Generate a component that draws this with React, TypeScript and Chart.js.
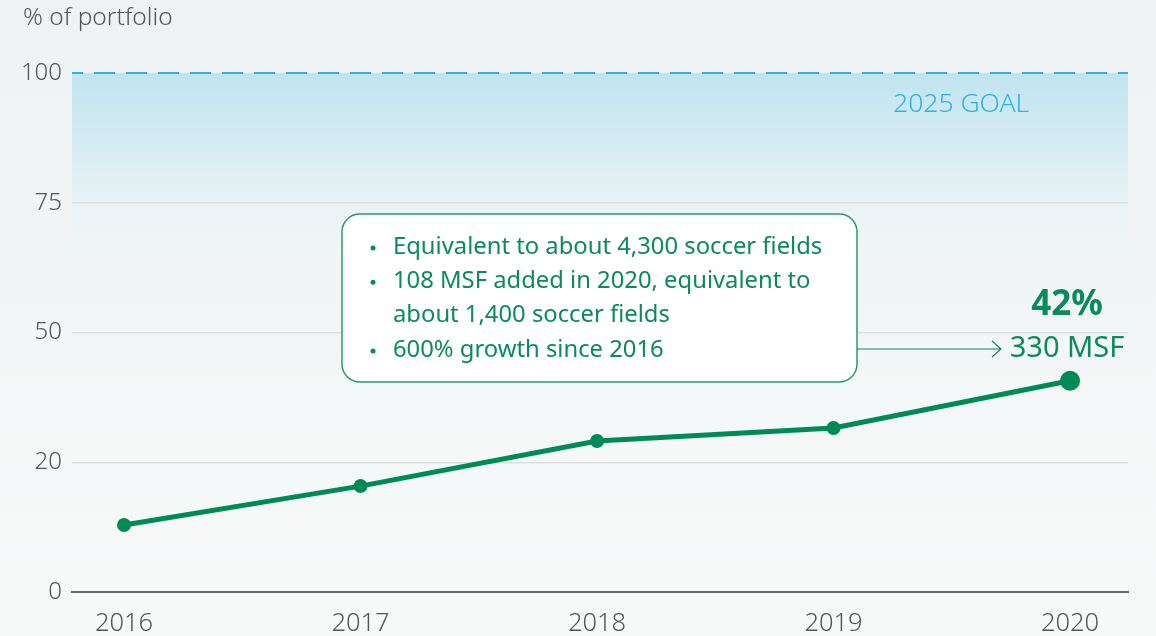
import React, { useEffect, useRef } from "react";
import { Chart, registerables } from "chart.js";

Chart.register(...registerables);

const years = [2016, 2017, 2018, 2019, 2020];
const sharePct = [12.9, 20.4, 29.1, 31.6, 40.7];
const yTickValues = [0, 25, 50, 75, 100];
const yTickLabels = ["0", "20", "50", "75", "100"];
const noteLines = [
  { bullet: true, text: "Equivalent to about 4,300 soccer fields" },
  { bullet: true, text: "108 MSF added in 2020, equivalent to" },
  { bullet: false, text: "about 1,400 soccer fields" },
  { bullet: true, text: "600% growth since 2016" },
];
const lastPctLabel = "42%";
const lastMsfLabel = "330 MSF";
const goalLabel = "2025 GOAL";
const yTitle = "% of portfolio";

const FONT = "'Noto Sans', 'Open Sans', sans-serif";
const GREEN = "#008a56";
const TEXT_GREEN = "#0b8a5c";
const BLUE = "#2eb3e4";

function roundRect(ctx: CanvasRenderingContext2D, x: number, y: number, w: number, h: number, r: number) {
  ctx.beginPath();
  ctx.moveTo(x + r, y);
  ctx.lineTo(x + w - r, y);
  ctx.arcTo(x + w, y, x + w, y + r, r);
  ctx.lineTo(x + w, y + h - r);
  ctx.arcTo(x + w, y + h, x + w - r, y + h, r);
  ctx.lineTo(x + r, y + h);
  ctx.arcTo(x, y + h, x, y + h - r, r);
  ctx.lineTo(x, y + r);
  ctx.arcTo(x, y, x + r, y, r);
  ctx.closePath();
}

const bgPlugin = {
  id: "bgPlugin",
  beforeDraw(chart: any) {
    const { ctx, width, height, chartArea, scales } = chart;
    ctx.save();
    const g = ctx.createLinearGradient(0, 0, 0, height);
    g.addColorStop(0, "#eef2f2");
    g.addColorStop(1, "#f8fafa");
    ctx.fillStyle = g;
    ctx.fillRect(0, 0, width, height);
    const yTop = scales.y.getPixelForValue(100);
    const yEnd = scales.y.getPixelForValue(62);
    const bg = ctx.createLinearGradient(0, yTop, 0, yEnd);
    bg.addColorStop(0, "rgba(192,228,240,1)");
    bg.addColorStop(0.66, "rgba(232,242,245,1)");
    bg.addColorStop(1, "rgba(240,244,245,0)");
    ctx.fillStyle = bg;
    ctx.fillRect(chartArea.left, yTop, chartArea.right - chartArea.left, yEnd - yTop);
    ctx.restore();
  },
  beforeDatasetsDraw(chart: any) {
    const { ctx, chartArea, scales } = chart;
    const y100 = scales.y.getPixelForValue(100);
    ctx.save();
    ctx.strokeStyle = BLUE;
    ctx.lineWidth = 2;
    ctx.setLineDash([21, 11]);
    ctx.lineDashOffset = 10;
    ctx.beginPath();
    ctx.moveTo(chartArea.left, y100);
    ctx.lineTo(chartArea.right, y100);
    ctx.stroke();
    ctx.setLineDash([]);
    ctx.fillStyle = BLUE;
    ctx.font = `300 26.5px ${FONT}`;
    ctx.textAlign = "left";
    ctx.textBaseline = "middle";
    ctx.fillText(goalLabel, 893, y100 + 31);
    // title
    ctx.fillStyle = "#555";
    ctx.font = `300 24.5px ${FONT}`;
    ctx.fillText(yTitle, 23, 18);
    ctx.restore();
  },
  afterDatasetsDraw(chart: any) {
    const { ctx } = chart;
    ctx.save();
    // note box
    const bx = 342, by = 214, bw = 515, bh = 168;
    roundRect(ctx, bx, by, bw, bh, 18);
    ctx.fillStyle = "#ffffff";
    ctx.fill();
    ctx.strokeStyle = "#2a9a6e";
    ctx.lineWidth = 1.5;
    ctx.stroke();
    ctx.fillStyle = TEXT_GREEN;
    ctx.font = `23.8px ${FONT}`;
    ctx.textBaseline = "middle";
    ctx.textAlign = "left";
    noteLines.forEach((l, i) => {
      const ly = 247 + i * 34.3;
      if (l.bullet) {
        ctx.beginPath();
        ctx.arc(373, ly + 1, 2.5, 0, Math.PI * 2);
        ctx.fill();
      }
      ctx.fillText(l.text, 393, ly);
    });
    // arrow
    const ay = 349;
    ctx.strokeStyle = TEXT_GREEN;
    ctx.lineWidth = 1.2;
    ctx.beginPath();
    ctx.moveTo(bx + bw, ay);
    ctx.lineTo(1001, ay);
    ctx.moveTo(992, ay - 8);
    ctx.lineTo(1001, ay);
    ctx.lineTo(992, ay + 8);
    ctx.stroke();
    ctx.textAlign = "center";
    ctx.font = `29px ${FONT}`;
    ctx.fillText(lastMsfLabel, 1067, ay);
    ctx.font = `bold 35px ${FONT}`;
    ctx.fillText(lastPctLabel, 1067, 305);
    ctx.restore();
  },
};

export default function App() {
  const ref = useRef<HTMLCanvasElement>(null);
  useEffect(() => {
    document.body.style.margin = "0";
    const chart = new Chart(ref.current!, {
      type: "line",
      data: {
        datasets: [
          {
            data: years.map((y, i) => ({ x: y, y: sharePct[i] })),
            borderColor: GREEN,
            backgroundColor: GREEN,
            borderWidth: 5,
            pointRadius: years.map((_, i) => (i === years.length - 1 ? 10 : 7)),
            pointBorderWidth: 0,
            pointBackgroundColor: GREEN,
            tension: 0,
          },
        ],
      },
      options: {
        animation: false,
        responsive: false,
        devicePixelRatio: 1,
        layout: { padding: { top: 73, right: 28, left: 0, bottom: 0 } },
        plugins: { legend: { display: false }, tooltip: { enabled: false } },
        scales: {
          x: {
            type: "linear",
            min: 2015.78,
            max: 2020.245,
            afterBuildTicks: (axis: any) => {
              axis.ticks = years.map((v) => ({ value: v }));
            },
            afterFit: (axis: any) => {
              axis.height = 44;
            },
            ticks: {
              callback: (v: any) => String(v),
              font: { family: FONT, size: 25.5, weight: 300 },
              color: "#555",
              padding: 16,
              maxRotation: 0,
              autoSkip: false,
            },
            grid: { display: false, drawTicks: false },
            border: { display: true, color: "#666", width: 2 },
          },
          y: {
            min: 0,
            max: 100,
            afterBuildTicks: (axis: any) => {
              axis.ticks = yTickValues.map((v) => ({ value: v }));
            },
            afterFit: (axis: any) => {
              axis.width = 72;
            },
            ticks: {
              callback: (v: any) => yTickLabels[yTickValues.indexOf(Number(v))],
              font: { family: FONT, size: 24, weight: 300 },
              color: "#555",
              padding: 10,
            },
            grid: {
              drawTicks: false,
              color: (c: any) =>
                c.tick && (c.tick.value === 0 || c.tick.value === 100) ? "rgba(0,0,0,0)" : "#dcdfe0",
              lineWidth: 1.5,
            },
            border: { display: false },
          },
        },
      },
      plugins: [bgPlugin],
    });
    return () => chart.destroy();
  }, []);
  return <canvas ref={ref} width={1156} height={636} style={{ display: "block" }} />;
}
